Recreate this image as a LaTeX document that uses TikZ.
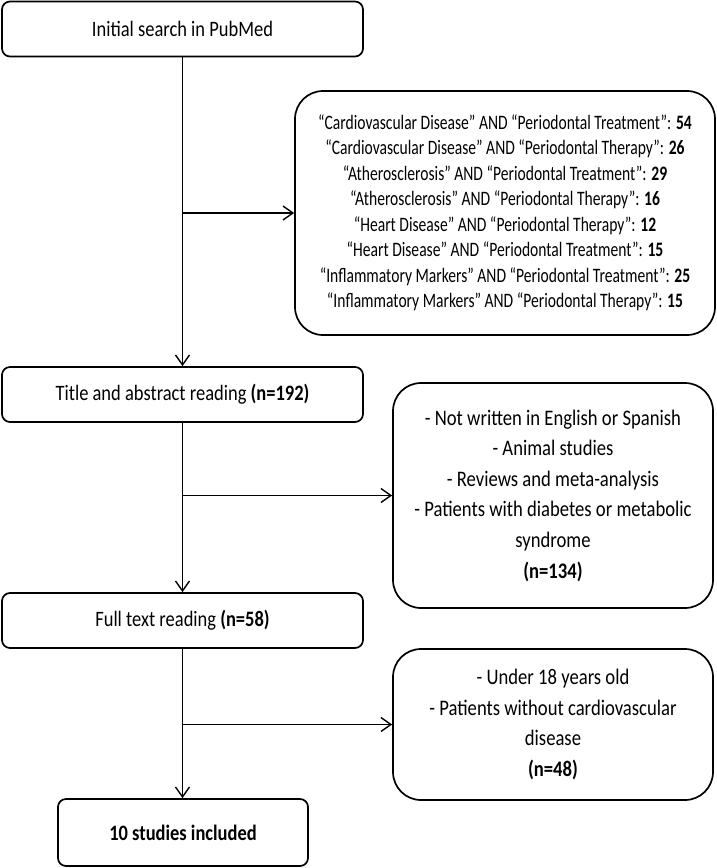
\documentclass[tikz,border=0pt]{standalone}
\usepackage{fontspec}
\setmainfont{Carlito}[FakeStretch=0.84]
\newfontfamily\termsfont{Carlito}[FakeStretch=0.76]
\usetikzlibrary{arrows.meta}

\tikzset{
  mainbox/.style={draw, line width=1.7pt, rounded corners=8pt,
    minimum width=361pt, minimum height=55pt, inner sep=0pt,
    font=\fontsize{22}{26}\selectfont},
  sidebox/.style={draw, line width=1.7pt, rounded corners=28pt,
    minimum width=320pt, inner sep=0pt, align=center,
    font=\fontsize{22.2}{30.6}\selectfont},
  flow/.style={line width=1.4pt,
    -{Straight Barb[length=10pt,width=14pt,line width=1.4pt]}},
}

\begin{document}
\begin{tikzpicture}[x=1pt, y=-1pt]
    \useasboundingbox (0,0) rectangle (716,868);

    % main column
    \node[mainbox] (pubmed) at (182.5,29) {Initial search in PubMed};
    \node[mainbox] (title) at (182.5,394.5) {Title and abstract reading \textbf{(n=192)}};
    \node[mainbox] (fulltext) at (182.5,620.5) {Full text reading \textbf{(n=58)}};
    \node[mainbox, minimum width=250pt, minimum height=67pt] (included) at (183,832.5)
    {\textbf{10 studies included}};

    % side boxes
    \node[sidebox, minimum width=420pt, minimum height=244pt,
      font=\termsfont\fontsize{20.5}{25.5}\selectfont] (terms) at (505,213) {%
      “Cardiovascular Disease” AND “Periodontal Treatment”: \textbf{54}\\
      “Cardiovascular Disease” AND “Periodontal Therapy”: \textbf{26}\\
      “Atherosclerosis” AND “Periodontal Treatment”: \textbf{29}\\
      “Atherosclerosis” AND “Periodontal Therapy”: \textbf{16}\\
      “Heart Disease” AND “Periodontal Therapy”: \textbf{12}\\
      “Heart Disease” AND “Periodontal Treatment”: \textbf{15}\\
      “Inflammatory Markers” AND “Periodontal Treatment”: \textbf{25}\\
      “Inflammatory Markers” AND “Periodontal Therapy”: \textbf{15}};

    \node[sidebox, minimum height=225pt] (excl1) at (553,495.5) {%
      - Not written in English or Spanish\\
      - Animal studies\\
      - Reviews and meta-analysis\\
      - Patients with diabetes or metabolic\\
      syndrome\\
      \textbf{(n=134)}};

    \node[sidebox, minimum height=151pt] (excl2) at (553,724.5) {%
      - Under 18 years old\\
      - Patients without cardiovascular\\
      disease\\
      \textbf{(n=48)}};

    % connectors
    \draw[flow] (pubmed) -- (title);
    \draw[flow] (title) -- (fulltext);
    \draw[flow] (fulltext.south) -- (fulltext.south |- included.north);

    \draw[flow] (pubmed.south |- terms.west) -- (terms.west);
    \draw[flow] (title.south |- excl1.west) -- (excl1.west);
    \draw[flow] (fulltext.south |- excl2.west) -- (excl2.west);

\end{tikzpicture}
\end{document}
